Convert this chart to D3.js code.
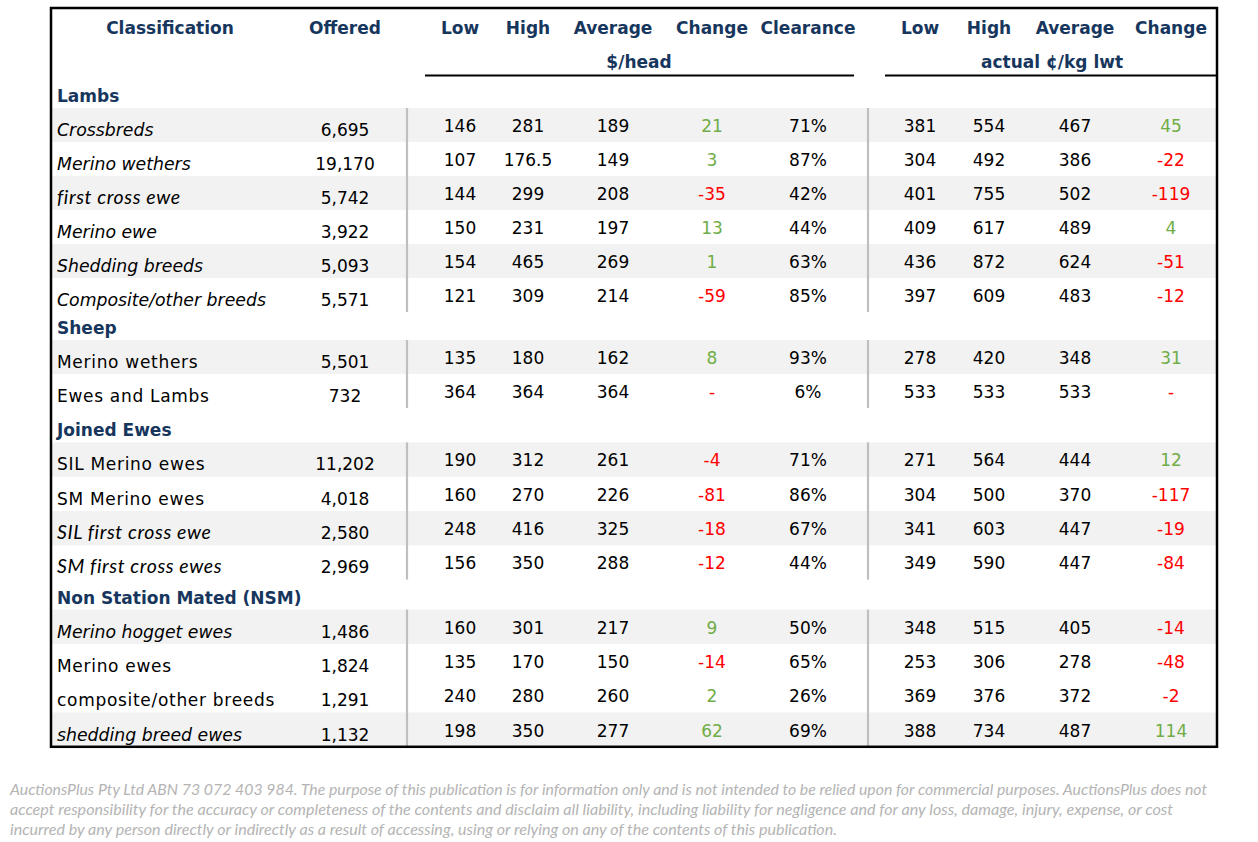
<!DOCTYPE html>
<html>
<head>
<meta charset="utf-8">
<script src="https://cdn.jsdelivr.net/npm/d3@7"></script>
<style>
  html, body { margin: 0; padding: 0; background: #fff; }
  svg { display: block; }
</style>
</head>
<body>
<svg id="chart" width="1258" height="842"></svg>
<script>
// ---------------- DATA ----------------
const sections = ["Lambs", "Sheep", "Joined Ewes", "Non Station Mated (NSM)"];
const categories = [
  "Crossbreds", "Merino wethers", "first cross ewe", "Merino ewe", "Shedding breeds", "Composite/other breeds",
  "Merino wethers", "Ewes and Lambs",
  "SIL Merino ewes", "SM Merino ewes", "SIL first cross ewe", "SM first cross ewes",
  "Merino hogget ewes", "Merino ewes", "composite/other breeds", "shedding breed ewes"
];
const sectionOf = [0,0,0,0,0,0, 1,1, 2,2,2,2, 3,3,3,3];
// label style: "i" = italic, "r" = regular, "c" = narrow italic
const labelStyle = ["i","i","c","i","i","i", "r","r", "r","r","c","c", "i","r","r","i"];
const shaded = [1,0,1,0,1,0, 1,0, 1,0,1,0, 1,0,0,1];
const offered = ["6,695","19,170","5,742","3,922","5,093","5,571","5,501","732","11,202","4,018","2,580","2,969","1,486","1,824","1,291","1,132"];
const headLow = ["146","107","144","150","154","121","135","364","190","160","248","156","160","135","240","198"];
const headHigh = ["281","176.5","299","231","465","309","180","364","312","270","416","350","301","170","280","350"];
const headAvg = ["189","149","208","197","269","214","162","364","261","226","325","288","217","150","260","277"];
const headChange = ["21","3","-35","13","1","-59","8","-","-4","-81","-18","-12","9","-14","2","62"];
const clearance = ["71%","87%","42%","44%","63%","85%","93%","6%","71%","86%","67%","44%","50%","65%","26%","69%"];
const kgLow = ["381","304","401","409","436","397","278","533","271","304","341","349","348","253","369","388"];
const kgHigh = ["554","492","755","617","872","609","420","533","564","500","603","590","515","306","376","734"];
const kgAvg = ["467","386","502","489","624","483","348","533","444","370","447","447","405","278","372","487"];
const kgChange = ["45","-22","-119","4","-51","-12","31","-","12","-117","-19","-84","-14","-48","-2","114"];
const headerLabels = ["Classification","Offered","Low","High","Average","Change","Clearance","Low","High","Average","Change"];
const unitLabels = ["$/head", "actual \u00a2/kg lwt"];
const footerLines = [
  "AuctionsPlus Pty Ltd ABN 73 072 403 984. The purpose of this publication is for information only and is not intended to be relied upon for commercial purposes. AuctionsPlus does not",
  "accept responsibility for the accuracy or completeness of the contents and disclaim all liability, including liability for negligence and for any loss, damage, injury, expense, or cost",
  "incurred by any person directly or indirectly as a result of accessing, using or relying on any of the contents of this publication."
];

// ---------------- LAYOUT ----------------
const svg = d3.select("#chart");
const NAVY = "#17365d", GREEN = "#70ad47", RED = "#ff0000", TXT = "#000";
const VERD = "'DejaVu Sans', Verdana, sans-serif";
const CAL = "Lato, Carlito, Calibri, sans-serif";

const colKeys = ["cls","offered","low","high","avg","chg","clr","klow","khigh","kavg","kchg"];
const x = d3.scaleOrdinal().domain(colKeys)
  .range([170, 345, 460, 528, 613, 712, 808, 920, 989, 1075, 1171]);

const tableLeft = 51, tableRight = 1217, tableTop = 8;
const dataH = [34, 34, 34.3, 34.3];
const secH = [28, 28, 34.4, 30];

// build row list
const rows = [];
let yCur = 80;
let prevSec = -1;
categories.forEach((c, i) => {
  const s = sectionOf[i];
  if (s !== prevSec) {
    rows.push({type: "sec", sec: s, y0: yCur, h: secH[s]});
    yCur += secH[s];
    prevSec = s;
  }
  rows.push({type: "data", i, sec: s, y0: yCur, h: dataH[s]});
  yCur += dataH[s];
});
const tableBottom = yCur;

svg.append("rect").attr("width", 1258).attr("height", 842).attr("fill", "#fff");

// shaded rows
const dataRows = rows.filter(r => r.type === "data");
svg.append("g").selectAll("rect").data(dataRows.filter(r => shaded[r.i]))
  .join("rect")
  .attr("x", tableLeft).attr("width", tableRight - tableLeft)
  .attr("y", r => r.y0).attr("height", r => r.h)
  .attr("fill", "#f2f2f2");

// vertical separators per section group
const groups = d3.groups(dataRows, r => r.sec).map(([s, rs]) => ({
  s, y0: d3.min(rs, r => r.y0), y1: d3.max(rs, r => r.y0 + r.h)
}));
[407, 868].forEach(sx => {
  svg.append("g").selectAll("line").data(groups).join("line")
    .attr("x1", sx).attr("x2", sx)
    .attr("y1", g => g.y0).attr("y2", g => g.y1)
    .attr("stroke", "#bfbfbf").attr("stroke-width", 2.2);
});

// header labels
svg.append("g").selectAll("text").data(headerLabels).join("text")
  .attr("x", (d, i) => x(colKeys[i]))
  .attr("y", 34)
  .attr("text-anchor", "middle")
  .attr("font-family", VERD).attr("font-weight", "bold").attr("font-size", 17)
  .attr("fill", NAVY)
  .text(d => d);

// unit labels
svg.append("g").selectAll("text").data(unitLabels).join("text")
  .attr("x", (d, i) => i === 0 ? 639 : 1052)
  .attr("y", 68)
  .attr("text-anchor", "middle")
  .attr("font-family", VERD).attr("font-weight", "bold").attr("font-size", 17)
  .attr("fill", NAVY)
  .text(d => d);

// underlines
svg.append("line").attr("x1", 425).attr("x2", 854).attr("y1", 75.5).attr("y2", 75.5)
  .attr("stroke", "#000").attr("stroke-width", 2);
svg.append("line").attr("x1", 885).attr("x2", tableRight).attr("y1", 75.5).attr("y2", 75.5)
  .attr("stroke", "#000").attr("stroke-width", 2);

// section headers
svg.append("g").selectAll("text").data(rows.filter(r => r.type === "sec")).join("text")
  .attr("x", 57)
  .attr("y", r => r.y0 + r.h - 6)
  .attr("font-family", VERD).attr("font-weight", "bold").attr("font-size", 17)
  .attr("fill", NAVY)
  .text(r => sections[r.sec]);

// data labels
const lab = svg.append("g").selectAll("text").data(dataRows).join("text")
  .attr("x", 57)
  .attr("y", r => r.y0 + 28)
  .attr("fill", TXT)
  .text(r => categories[r.i]);
lab.each(function(r) {
  const st = labelStyle[r.i];
  const t = d3.select(this);
  if (st === "c") {
    t.attr("font-family", CAL).attr("font-style", "italic").attr("font-size", 19.5).attr("letter-spacing", 0.6);
  } else if (st === "i") {
    t.attr("font-family", VERD).attr("font-style", "italic").attr("font-size", 17.3);
  } else {
    t.attr("font-family", VERD).attr("font-size", 17).attr("letter-spacing", 0.7);
  }
});

// offered
svg.append("g").selectAll("text").data(dataRows).join("text")
  .attr("x", x("offered")).attr("y", r => r.y0 + 28)
  .attr("text-anchor", "middle")
  .attr("font-family", VERD).attr("font-size", 17).attr("fill", TXT)
  .text(r => offered[r.i]);

// numeric columns
const numCols = [
  ["low", headLow], ["high", headHigh], ["avg", headAvg], ["chg", headChange], ["clr", clearance],
  ["klow", kgLow], ["khigh", kgHigh], ["kavg", kgAvg], ["kchg", kgChange]
];
numCols.forEach(([key, arr]) => {
  const isChg = key === "chg" || key === "kchg";
  svg.append("g").selectAll("text").data(dataRows).join("text")
    .attr("x", x(key)).attr("y", r => r.y0 + 24)
    .attr("text-anchor", "middle")
    .attr("font-family", VERD).attr("font-size", 17)
    .attr("fill", r => {
      if (!isChg) return TXT;
      const v = arr[r.i];
      if (v === "-" || v.startsWith("-")) return RED;
      return GREEN;
    })
    .text(r => arr[r.i]);
});

// outer border
svg.append("rect")
  .attr("x", tableLeft).attr("y", tableTop)
  .attr("width", tableRight - tableLeft).attr("height", tableBottom - tableTop)
  .attr("fill", "none").attr("stroke", "#000").attr("stroke-width", 2.5);

// footer
const footW = [1197, 1163, 827];
svg.append("g").selectAll("text").data(footerLines).join("text")
  .attr("x", 10)
  .attr("y", (d, i) => 795 + i * 20)
  .attr("font-family", CAL).attr("font-style", "italic").attr("font-size", 14.5)
  .attr("fill", "#b4b4b4")
  .attr("textLength", (d, i) => footW[i])
  .attr("lengthAdjust", "spacingAndGlyphs")
  .text(d => d);
</script>
</body>
</html>
